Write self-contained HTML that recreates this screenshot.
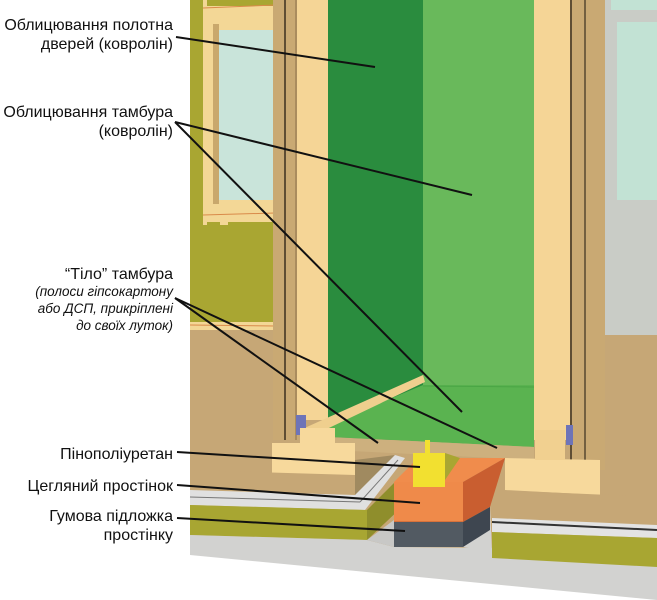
<!DOCTYPE html>
<html><head><meta charset="utf-8"><style>
html,body{margin:0;padding:0;background:#fff;}
svg{display:block;}
text{font-family:"Liberation Sans",sans-serif;fill:#111;}
</style></head><body>
<svg width="657" height="600" viewBox="0 0 657 600" xmlns="http://www.w3.org/2000/svg">
<rect width="657" height="600" fill="#fff"/>
<!-- base fill -->
<polygon points="190,330 657,330 657,567 490,552 190,540" fill="#c6a776"/>
<!-- left wall -->
<rect x="190" y="0" width="85" height="340" fill="#a9a632"/>
<rect x="203" y="0" width="72" height="225" fill="#f3d796"/>
<rect x="207" y="0" width="66" height="6" fill="#a9a632"/>
<line x1="203" y1="8" x2="275" y2="5" stroke="#d98a4a" stroke-width="1"/>
<rect x="213" y="24" width="6" height="180" fill="#c9a86c"/>
<rect x="219" y="30" width="54" height="170" fill="#c9e4da"/>
<line x1="203" y1="215" x2="275" y2="213" stroke="#d98a4a" stroke-width="1"/>
<rect x="207" y="222" width="13" height="100" fill="#a9a632"/>
<rect x="228" y="222" width="45" height="100" fill="#a9a632"/>
<rect x="190" y="322" width="85" height="8" fill="#f3d796"/>
<line x1="190" y1="325" x2="275" y2="326" stroke="#d98a4a"/>
<rect x="190" y="330" width="85" height="180" fill="#c6a776"/>
<!-- left tan column -->
<rect x="273" y="0" width="25" height="440" fill="#c9a973"/>
<line x1="285" y1="0" x2="285" y2="440" stroke="#3a2f20" stroke-width="1.5"/>
<line x1="296" y1="0" x2="296" y2="440" stroke="#8a7048" stroke-width="1"/>
<rect x="297" y="0" width="31" height="420" fill="#f5d596"/>
<!-- greens -->
<rect x="328" y="0" width="96" height="440" fill="#2a8c3e"/>
<rect x="423" y="0" width="111" height="440" fill="#69b95b"/>
<polygon points="328,425 423,385 534,385 534,447 330,437" fill="#5ab350"/>
<line x1="423" y1="386" x2="534" y2="387" stroke="#4aa545" stroke-width="1"/>
<polygon points="330,437 534,447 534,460 330,450" fill="#cdb07e"/>
<!-- diagonal board -->
<polygon points="423,375 425,382 310,437 300,430" fill="#efcf8e"/>
<rect x="296" y="415" width="10" height="20" fill="#6e74b8"/>
<!-- right jamb -->
<rect x="534" y="0" width="36" height="440" fill="#f5d596"/>
<rect x="570" y="0" width="35" height="470" fill="#c9a973"/>
<line x1="571" y1="0" x2="571" y2="470" stroke="#3a2f20" stroke-width="1.5"/>
<line x1="585" y1="0" x2="585" y2="470" stroke="#3a2f20" stroke-width="1.2"/>
<rect x="566" y="425" width="7" height="20" fill="#6e74b8"/>
<!-- right window area -->
<rect x="605" y="0" width="52" height="335" fill="#c9ccc6"/>
<rect x="611" y="0" width="46" height="10" fill="#c2e2d4"/>
<rect x="617" y="22" width="40" height="178" fill="#c2e2d4"/>
<rect x="605" y="335" width="52" height="165" fill="#c6a776"/>
<!-- thresholds -->
<polygon points="272,443 355,443 355,475 272,475" fill="#f7d99c"/>
<polygon points="300,428 335,428 335,443 300,443" fill="#f7d99c"/>
<polygon points="190,470 355,475 355,495 190,490" fill="#c6a776"/>
<polygon points="355,460 395,455 355,500" fill="#a08a60"/>
<polygon points="190,490 355,495 395,455 405,458 365,510 190,505" fill="#e0e0e0"/>
<line x1="190" y1="497" x2="360" y2="502" stroke="#777" stroke-width="1"/>
<line x1="360" y1="502" x2="398" y2="460" stroke="#777" stroke-width="1"/>
<polygon points="190,505 367,510 367,540 190,535" fill="#a8a632"/>
<polygon points="367,510 420,457 420,490 367,540" fill="#8f8e2c"/>
<polygon points="190,535 367,540 394,547 490,548 657,560 657,600 190,555" fill="#d2d2d0"/>
<polygon points="367,540 394,520 394,547" fill="#c8c8c6"/>
<polygon points="463,547 490,505 492,552" fill="#d2d2d0"/>
<!-- right threshold -->
<polygon points="505,458 600,460 600,495 505,490" fill="#f7d99c"/>
<rect x="535" y="430" width="30" height="30" fill="#f1d090"/>
<polygon points="492,490 657,497 657,525 492,518" fill="#c6a776"/>
<polygon points="492,518 657,525 657,538 492,532" fill="#e3e3e3"/>
<line x1="492" y1="522" x2="657" y2="530" stroke="#333" stroke-width="2"/>
<polygon points="492,532 657,538 657,567 492,558" fill="#a8a632"/>
<!-- brick -->
<polygon points="394,482 418,458 505,458 463,482" fill="#f08c4c"/>
<polygon points="463,482 505,458 490,507 463,522" fill="#c95e30"/>
<rect x="394" y="482" width="69" height="40" fill="#ef8a4a"/>
<line x1="394" y1="522" x2="463" y2="522" stroke="#c05a2c"/>
<rect x="394" y="522" width="69" height="25" fill="#525a62"/>
<polygon points="463,522 490,507 490,530 463,547" fill="#3e4650"/>
<!-- foam -->
<rect x="425" y="440" width="5" height="15" fill="#f2e030"/>
<rect x="413" y="453" width="32" height="34" fill="#f2e030"/>
<polygon points="445,453 460,458 445,480" fill="#a9a632"/>
<!-- leader lines -->
<g stroke="#111" stroke-width="2" fill="none">
<line x1="176" y1="37" x2="375" y2="67"/>
<line x1="175" y1="122" x2="472" y2="195"/>
<line x1="175" y1="122" x2="462" y2="412"/>
<line x1="175" y1="298" x2="378" y2="443"/>
<line x1="175" y1="298" x2="497" y2="448"/>
<line x1="177" y1="452" x2="420" y2="467"/>
<line x1="177" y1="485" x2="420" y2="503"/>
<line x1="177" y1="518" x2="405" y2="531"/>
</g>
<!-- labels -->
<g font-size="16" text-anchor="end">
<text x="173" y="30">Облицювання полотна</text>
<text x="173" y="49">дверей (ковролін)</text>
<text x="173" y="117">Облицювання тамбура</text>
<text x="173" y="136">(ковролін)</text>
<text x="173" y="279">“Тіло” тамбура</text>
<text x="173" y="459">Пінополіуретан</text>
<text x="173" y="491">Цегляний простінок</text>
<text x="173" y="521">Гумова підложка</text>
<text x="173" y="540">простінку</text>
</g>
<g font-size="13.5" font-style="italic" text-anchor="end">
<text x="173" y="296">(полоси гіпсокартону</text>
<text x="173" y="313">або ДСП, прикріплені</text>
<text x="173" y="330">до своїх луток)</text>
</g>
</svg>
</body></html>
